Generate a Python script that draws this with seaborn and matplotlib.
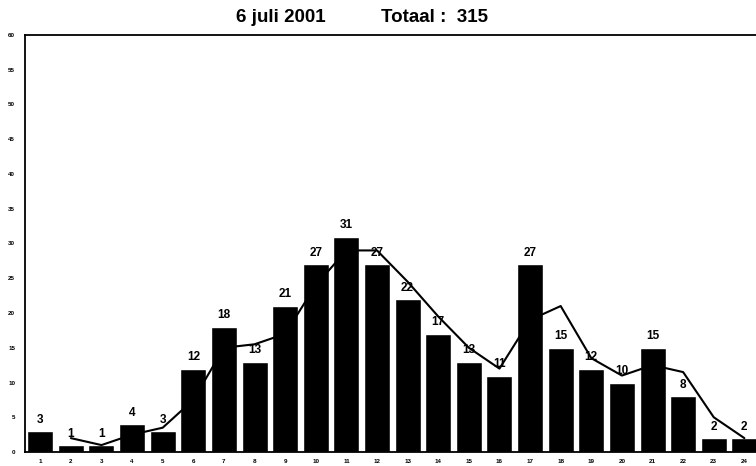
import matplotlib
matplotlib.use("Agg")
import matplotlib.pyplot as plt
import seaborn as sns

# Data
hours = [str(h) for h in range(1, 25)]
counts = [3, 1, 1, 4, 3, 12, 18, 13, 21, 27, 31, 27, 22, 17, 13, 11, 27, 15, 12, 10, 15, 8, 2, 2]
# trend line, hours 2..24
trend_hours = hours[1:]
trend_values = [2, 1, 2.5, 3.5, 7.5, 15, 15.5, 17, 24, 29, 29, 24.5, 19.5, 15, 12, 19, 21, 13.5, 11, 12.5, 11.5, 5, 2]
y_ticks = list(range(0, 61, 5))

sns.set_style("white")
plt.rcParams['font.family'] = ['Liberation Sans', 'DejaVu Sans']
plt.rcParams['text.color'] = 'black'
plt.rcParams['xtick.color'] = 'black'
plt.rcParams['ytick.color'] = 'black'

fig = plt.figure(figsize=(7.56, 4.66), dpi=100)
ax = fig.add_axes([0.033, 0.030, 0.967, 0.895])

sns.barplot(x=hours, y=counts, color="black", width=0.85, saturation=1, ax=ax)
trend_pos = [hours.index(h) for h in trend_hours]
sns.lineplot(x=trend_pos, y=trend_values, color="black", linewidth=1.5, ax=ax)

# value labels
for i, v in enumerate(counts):
    ax.annotate(str(v), (i, v), xytext=(0, 4), textcoords="offset points",
                ha="center", va="bottom", fontsize=8.5, fontweight="bold")

ax.set_xlim(-0.5, 23.38)
ax.set_ylim(0, 60)
ax.set_yticks(y_ticks)
ax.tick_params(axis="y", labelsize=4.5, length=2, width=0.8, pad=5)
ax.tick_params(axis="x", labelsize=4.5, length=0, pad=5)
for lab in ax.get_xticklabels() + ax.get_yticklabels():
    lab.set_fontweight("bold")
ax.set_xlabel("")
ax.set_ylabel("")

for side in ["left", "top", "bottom"]:
    ax.spines[side].set_visible(True)
    ax.spines[side].set_color("black")
    ax.spines[side].set_linewidth(1.3)
ax.spines["right"].set_visible(False)

fig.text(0.371, 0.963, "6 juli 2001", ha="center", va="center", fontsize=13.5, fontweight="bold")
fig.text(0.575, 0.963, "Totaal :  315", ha="center", va="center", fontsize=13.5, fontweight="bold")

fig.savefig("out.png", dpi=100)
